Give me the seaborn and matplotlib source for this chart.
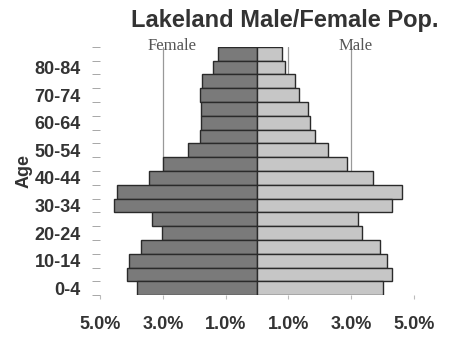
import numpy as np
import pandas as pd
import matplotlib
matplotlib.use("Agg")
import matplotlib.pyplot as plt
import seaborn as sns

# age groups, top of the pyramid first
ages = ["85+", "80-84", "75-79", "70-74", "65-69", "60-64", "55-59", "50-54",
        "45-49", "40-44", "35-39", "30-34", "25-29", "20-24", "15-19",
        "10-14", "5-9", "0-4"]
female = [1.24, 1.40, 1.75, 1.82, 1.80, 1.78, 1.82, 2.19, 3.00, 3.43,
          4.47, 4.55, 3.35, 3.03, 3.70, 4.07, 4.15, 3.81]
male = [0.80, 0.89, 1.21, 1.34, 1.62, 1.69, 1.85, 2.27, 2.86, 3.70,
        4.61, 4.29, 3.23, 3.33, 3.90, 4.15, 4.31, 4.00]
xticks = [-5, -3, -1, 1, 3, 5]
xticklabels = ["5.0%", "3.0%", "1.0%", "1.0%", "3.0%", "5.0%"]
shown_ages = ["80-84", "70-74", "60-64", "50-54", "40-44", "30-34",
              "20-24", "10-14", "0-4"]

df = pd.DataFrame({
    "age": ages * 2,
    "value": [-v for v in female] + male,
    "sex": ["Female"] * len(ages) + ["Male"] * len(ages),
})

sns.set_style("white")
plt.rcParams["font.family"] = ["Liberation Sans", "DejaVu Sans"]

fig = plt.figure(figsize=(4.57, 3.40), dpi=100)
ax = fig.add_axes([0.219, 0.132, 0.687, 0.730])

# grid lines behind the bars
for g in [-3, -1, 1, 3]:
    ax.axvline(g, color="#999999", lw=0.9, zorder=0)

sns.barplot(data=df, x="value", y="age", hue="sex", order=ages, dodge=False,
            palette={"Female": "#7a7a7a", "Male": "#c6c6c6"}, width=1.0,
            edgecolor="#2a2a2a", linewidth=1.0, legend=False, ax=ax, zorder=2)

ax.set_xlim(-5, 5)
ax.set_ylim(len(ages) - 0.5, -0.5)
ax.set_xticks(xticks)
ax.set_xticklabels(xticklabels, fontsize=13, fontweight="bold", color="#333333")
ypos = [ages.index(a) for a in shown_ages]
ax.set_yticks(ypos)
ax.set_yticklabels(shown_ages, fontsize=13, fontweight="bold", color="#333333")
ax.set_yticks(np.arange(-0.5, len(ages), 1.0), minor=True)
ax.tick_params(axis="y", which="major", length=0, pad=14)
ax.tick_params(axis="y", which="minor", length=6, color="#999999", left=True)
ax.tick_params(axis="x", length=3, color="#bbbbbb", pad=12, bottom=True)
for s in ax.spines.values():
    s.set_visible(False)

ax.set_xlabel("")
ax.set_ylabel("Age", fontsize=13, fontweight="bold", color="#333333")
ax.yaxis.set_label_coords(-0.215, 0.50)

ax.text(-2.7, -0.6, "Female", family="Liberation Serif", fontsize=12,
        color="#555555", ha="center", va="center", zorder=3)
ax.text(3.15, -0.6, "Male", family="Liberation Serif", fontsize=12,
        color="#555555", ha="center", va="center", zorder=3)

fig.text(0.622, 0.94, "Lakeland Male/Female Pop.", fontsize=17,
         fontweight="bold", color="#333333", ha="center", va="center")

fig.savefig("out.png", dpi=100)
